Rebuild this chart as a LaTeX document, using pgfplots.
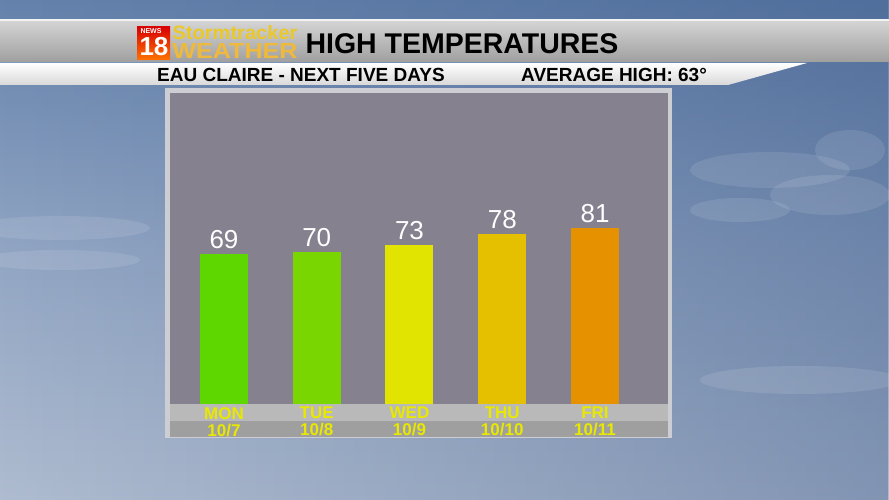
\documentclass[border=0pt]{standalone}
\usepackage{pgfplots}
\pgfplotsset{compat=1.18}
\usepackage{fontspec}
\setmainfont{Liberation Sans}
\usetikzlibrary{fadings}

\definecolor{monc}{RGB}{94,214,0}
\definecolor{tuec}{RGB}{122,214,0}
\definecolor{wedc}{RGB}{224,228,0}
\definecolor{thuc}{RGB}{228,192,0}
\definecolor{fric}{RGB}{230,145,0}
\definecolor{plotbg}{RGB}{133,129,143}
\definecolor{framec}{RGB}{205,206,212}
\definecolor{skytop}{RGB}{100,130,172}
\definecolor{skymid}{RGB}{145,165,195}
\definecolor{skybot}{RGB}{175,188,208}
\definecolor{skydark}{RGB}{45,75,125}
\definecolor{daycol}{RGB}{232,232,0}

\begin{document}
\begin{tikzpicture}[x=1pt,y=1pt]
\useasboundingbox (0,0) rectangle (889,500);
% sky
\shade[top color=skytop, bottom color=skybot, middle color=skymid] (0,0) rectangle (889,500);
\fill[skydark, opacity=0.35, path fading=west] (0,0) rectangle (889,500);
% clouds
\begin{scope}[white, opacity=0.1]
\fill (770,330) ellipse (80 and 18);
\fill (830,305) ellipse (60 and 20);
\fill (740,290) ellipse (50 and 12);
\fill (850,350) ellipse (35 and 20);
\fill (800,120) ellipse (100 and 14);
\fill (60,240) ellipse (80 and 10);
\fill (60,272) ellipse (90 and 12);
\end{scope}
% header band
\fill[white!90!gray] (0,478) rectangle (889,481);
\shade[top color=gray!35, bottom color=gray!75] (0,438) rectangle (889,478);
% subheader
\shade[top color=white, bottom color=gray!30] (0,415) -- (728,415) -- (807,437) -- (0,437) -- cycle;
% logo
\shade[top color=red!85!black, bottom color=orange!90!red] (137,440) rectangle (170,473);
\node[font=\bfseries\fontsize{7}{7}\selectfont, white] at (151,469) {NEWS};
\node[font=\bfseries\fontsize{26}{26}\selectfont, white] at (154,453) {18};
\node[font=\bfseries, text={rgb,255:red,235;green,200;blue,40}, inner sep=0pt] at (235,467.5) {\resizebox{125pt}{14pt}{Stormtracker}};
\node[font=\bfseries, text={rgb,255:red,238;green,185;blue,60}, inner sep=0pt] at (235,448.5) {\resizebox{125pt}{15pt}{WEATHER}};
% titles
\node[font=\bfseries\fontsize{28.5}{28.5}\selectfont, inner sep=0pt] at (462,456) {HIGH TEMPERATURES};
\node[font=\bfseries\fontsize{19}{19}\selectfont, anchor=west, inner sep=0pt] at (157,425) {EAU CLAIRE - NEXT FIVE DAYS};
\node[font=\bfseries\fontsize{19}{19}\selectfont, anchor=west, inner sep=0pt] at (521,425) {AVERAGE HIGH: 63°};
% panel
\fill[framec] (165,62) rectangle (672,412);
\fill[plotbg] (170,96) rectangle (668,407);
\fill[gray!55] (170,79) rectangle (668,96);
\fill[gray!75] (170,63) rectangle (668,79);

\begin{axis}[
  at={(170pt,96pt)}, anchor=south west,
  scale only axis, width=498pt, height=311pt,
  xmin=-0.582, xmax=4.787, ymin=0, ymax=143,
  axis line style={draw=none}, major tick length=0pt,
  ytick=\empty,
  xtick={0,1,2,3,4},
  xticklabels={MON\\10/7, TUE\\10/8, WED\\10/9, THU\\10/10, FRI\\10/11},
  xticklabel style={align=center, font=\bfseries\fontsize{17}{17}\selectfont, text=daycol, inner sep=0pt, yshift=-3pt},
  ybar, bar width=48pt, clip=false,
  point meta=explicit symbolic,
  nodes near coords,
  every node near coord/.append style={font=\fontsize{26}{26}\selectfont, white, anchor=south, inner sep=0pt, yshift=5pt},
]
\addplot[fill=monc, draw=none, bar shift=0pt] coordinates {(0,69) [69]};
\addplot[fill=tuec, draw=none, bar shift=0pt] coordinates {(1,70) [70]};
\addplot[fill=wedc, draw=none, bar shift=0pt] coordinates {(2,73) [73]};
\addplot[fill=thuc, draw=none, bar shift=0pt] coordinates {(3,78) [78]};
\addplot[fill=fric, draw=none, bar shift=0pt] coordinates {(4,81) [81]};
\end{axis}
\end{tikzpicture}
\end{document}
